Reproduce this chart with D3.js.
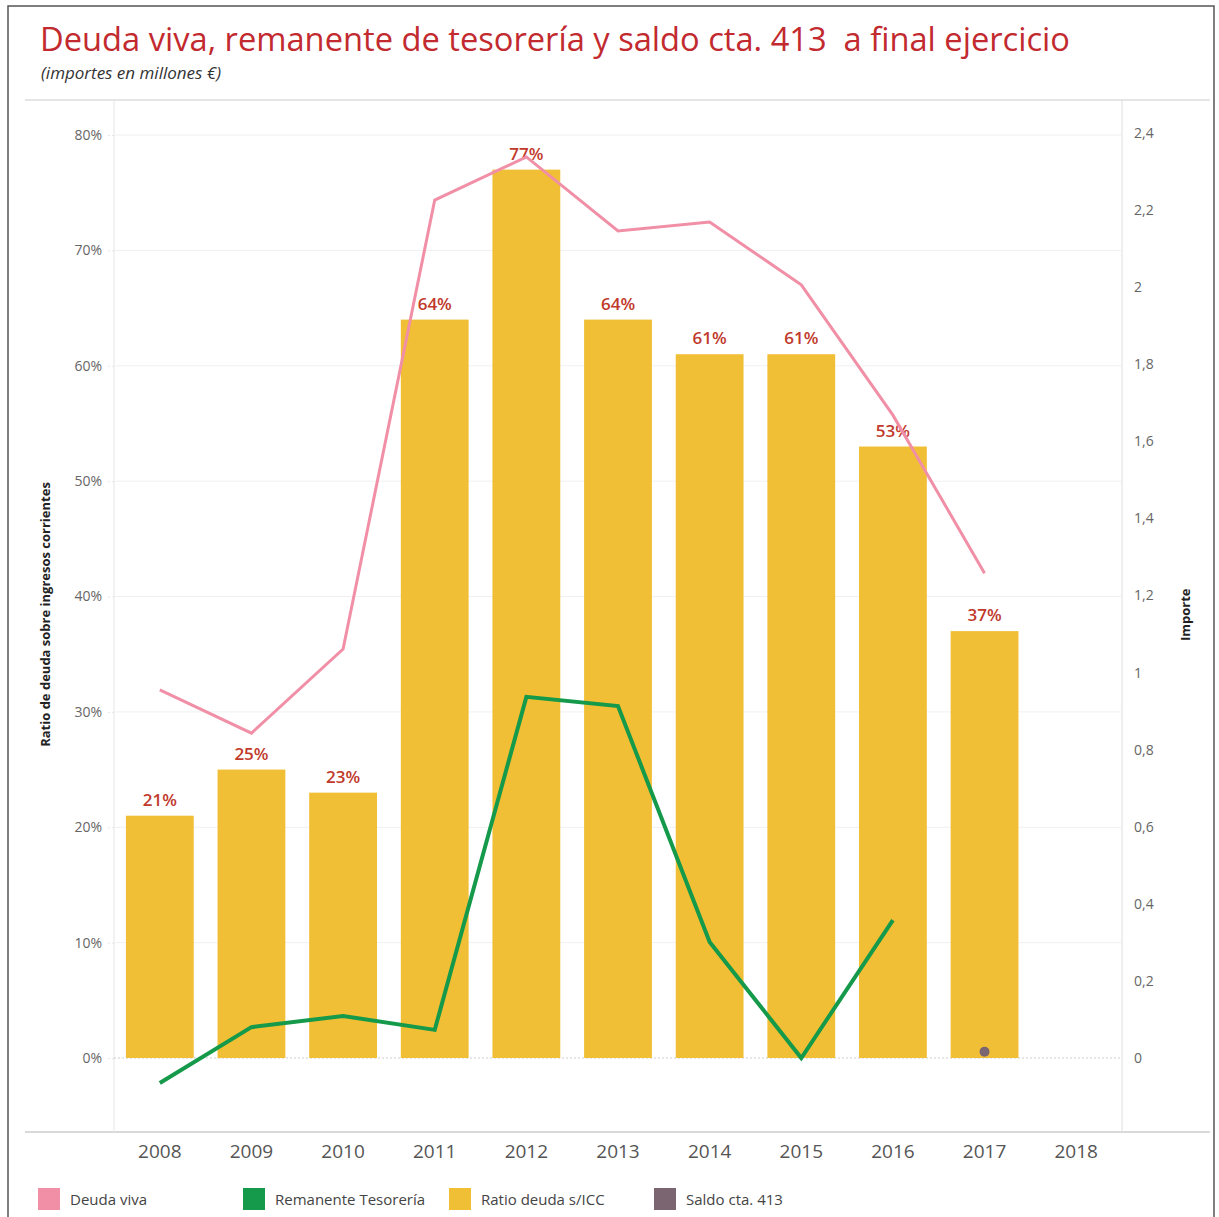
<!DOCTYPE html>
<html>
<head>
<meta charset="utf-8">
<script src="https://cdn.jsdelivr.net/npm/d3@7"></script>
<style>
  body { margin: 0; background: #fff; }
  text { font-family: "Open Sans", "Noto Sans", sans-serif; }
</style>
</head>
<body>
<div id="chart"></div>
<script>
const years = ["2008", "2009", "2010", "2011", "2012", "2013", "2014", "2015", "2016", "2017", "2018"];
const ratio = [0.21, 0.25, 0.23, 0.64, 0.77, 0.64, 0.61, 0.61, 0.53, 0.37, null];
const deudaViva = [0.955, 0.843, 1.061, 2.226, 2.338, 2.146, 2.169, 2.006, 1.668, 1.258, null];
const remanente = [-0.065, 0.08, 0.109, 0.073, 0.937, 0.913, 0.301, 0.0, 0.358, null, null];
const saldo413 = [null, null, null, null, null, null, null, null, null, 0.016, null];
const leftTicks = [0, 0.1, 0.2, 0.3, 0.4, 0.5, 0.6, 0.7, 0.8];
const rightTicks = [0, 0.2, 0.4, 0.6, 0.8, 1, 1.2, 1.4, 1.6, 1.8, 2, 2.2, 2.4];
const legendItems = [
  { label: "Deuda viva", color: "#f08fa6" },
  { label: "Remanente Tesorería", color: "#15994a" },
  { label: "Ratio deuda s/ICC", color: "#f1bf35" },
  { label: "Saldo cta. 413", color: "#7a6570" }
];

const W = 1219, H = 1217;
const plot = { left: 114, right: 1122, top: 100, bottom: 1132 };

const svg = d3.select("#chart").append("svg")
  .attr("width", W).attr("height", H);

// frame
svg.append("path")
  .attr("d", `M8,${H} V6 H1214 V${H}`)
  .attr("fill", "none").attr("stroke", "#555").attr("stroke-width", 1.5);

svg.append("text")
  .attr("x", 40).attr("y", 51)
  .attr("font-size", 32)
  .attr("fill", "#c22a2f")
  .attr("textLength", 1030).attr("lengthAdjust", "spacingAndGlyphs")
  .text("Deuda viva, remanente de tesorería y saldo cta. 413\u00a0 a final ejercicio");

svg.append("text")
  .attr("x", 41).attr("y", 79)
  .attr("font-size", 17).attr("font-style", "italic")
  .attr("fill", "#333")
  .text("(importes en millones €)");

const x = d3.scaleBand().domain(years).range([plot.left, plot.right]).paddingInner(0.26).paddingOuter(0.13);
const yL = d3.scaleLinear().domain([0, 0.8]).range([1058, 135]);
const yR = d3.scaleLinear().domain([0, 2.4]).range([1058, 133]);
const cx = d => x(d) + x.bandwidth() / 2;

// border lines of plot area
svg.append("line").attr("x1", 25).attr("x2", 1210).attr("y1", plot.top).attr("y2", plot.top)
  .attr("stroke", "#ddd").attr("stroke-width", 1.5);
svg.append("line").attr("x1", 25).attr("x2", 1210).attr("y1", plot.bottom).attr("y2", plot.bottom)
  .attr("stroke", "#ccc").attr("stroke-width", 1.5);
svg.append("line").attr("x1", plot.left).attr("x2", plot.left).attr("y1", plot.top).attr("y2", plot.bottom)
  .attr("stroke", "#e6e6e6");
svg.append("line").attr("x1", plot.right).attr("x2", plot.right).attr("y1", plot.top).attr("y2", plot.bottom)
  .attr("stroke", "#ddd");

// grid
svg.append("g").selectAll("line").data(leftTicks.filter(d => d > 0)).join("line")
  .attr("x1", plot.left).attr("x2", plot.right)
  .attr("y1", d => yL(d)).attr("y2", d => yL(d))
  .attr("stroke", "#f0f0f0");
svg.append("line").attr("x1", plot.left).attr("x2", plot.right)
  .attr("y1", yL(0)).attr("y2", yL(0))
  .attr("stroke", "#ccc").attr("stroke-dasharray", "2,2");

// left axis
const axL = svg.append("g").attr("transform", `translate(${plot.left},0)`)
  .call(d3.axisLeft(yL).tickValues(leftTicks).tickFormat(d => Math.round(d * 100) + "%").tickSize(8).tickPadding(4));
axL.select(".domain").remove();
axL.selectAll(".tick line").attr("stroke", "#e6e6e6").attr("stroke-dasharray", "2,2");
axL.selectAll(".tick text").attr("font-size", 14).attr("fill", "#666").attr("font-family", "Open Sans");

// right axis
const axR = svg.append("g").attr("transform", `translate(${plot.right},0)`)
  .call(d3.axisRight(yR).tickValues(rightTicks).tickFormat(d => String(d).replace(".", ",")).tickSize(0).tickPadding(12));
axR.select(".domain").remove();
axR.selectAll(".tick text").attr("font-size", 14).attr("fill", "#666").attr("font-family", "Open Sans");

// axis titles
svg.append("text")
  .attr("transform", `translate(50,${yL(0.4) + 18}) rotate(-90)`)
  .attr("text-anchor", "middle").attr("font-size", 13).attr("font-weight", "bold").attr("fill", "#222")
  .text("Ratio de deuda sobre ingresos corrientes");
svg.append("text")
  .attr("transform", `translate(1190,${yR(1.15)}) rotate(-90)`)
  .attr("text-anchor", "middle").attr("font-size", 13).attr("font-weight", "bold").attr("fill", "#222")
  .text("Importe");

// x axis
const axX = svg.append("g").attr("transform", `translate(0,${plot.bottom})`)
  .call(d3.axisBottom(x).tickSize(0).tickPadding(13));
axX.select(".domain").remove();
axX.selectAll(".tick text").attr("font-size", 19).attr("fill", "#555").attr("font-family", "Open Sans");

// bars
const barData = years.map((y, i) => ({ year: y, v: ratio[i] })).filter(d => d.v != null);
svg.append("g").selectAll("rect").data(barData).join("rect")
  .attr("x", d => x(d.year)).attr("width", x.bandwidth())
  .attr("y", d => yL(d.v)).attr("height", d => yL(0) - yL(d.v))
  .attr("fill", "#f1bf35");

svg.append("g").selectAll("text").data(barData).join("text")
  .attr("x", d => cx(d.year)).attr("y", d => yL(d.v) - 10)
  .attr("text-anchor", "middle").attr("font-size", 17).attr("font-weight", 600)
  .attr("fill", "#c0392b")
  .text(d => Math.round(d.v * 100) + "%");

// lines
const lineGen = d3.line().defined(d => d.v != null).x(d => cx(d.year)).y(d => yR(d.v));
svg.append("path")
  .datum(years.map((y, i) => ({ year: y, v: deudaViva[i] })))
  .attr("d", lineGen).attr("fill", "none").attr("stroke", "#f08fa6").attr("stroke-width", 3);
svg.append("path")
  .datum(years.map((y, i) => ({ year: y, v: remanente[i] })))
  .attr("d", lineGen).attr("fill", "none").attr("stroke", "#15994a").attr("stroke-width", 4);

// saldo 413 point
svg.append("g").selectAll("circle")
  .data(years.map((y, i) => ({ year: y, v: saldo413[i] })).filter(d => d.v != null))
  .join("circle")
  .attr("cx", d => cx(d.year)).attr("cy", d => yR(d.v)).attr("r", 5)
  .attr("fill", "#7a6570");

// legend
const legendX = [38, 243, 449, 654];
const lg = svg.append("g").selectAll("g").data(legendItems).join("g")
  .attr("transform", (d, i) => `translate(${legendX[i]},1188)`);
lg.append("rect").attr("width", 22).attr("height", 22).attr("fill", d => d.color);
lg.append("text").attr("x", 32).attr("y", 17).attr("font-size", 15).attr("fill", "#444").text(d => d.label);
</script>
</body>
</html>
